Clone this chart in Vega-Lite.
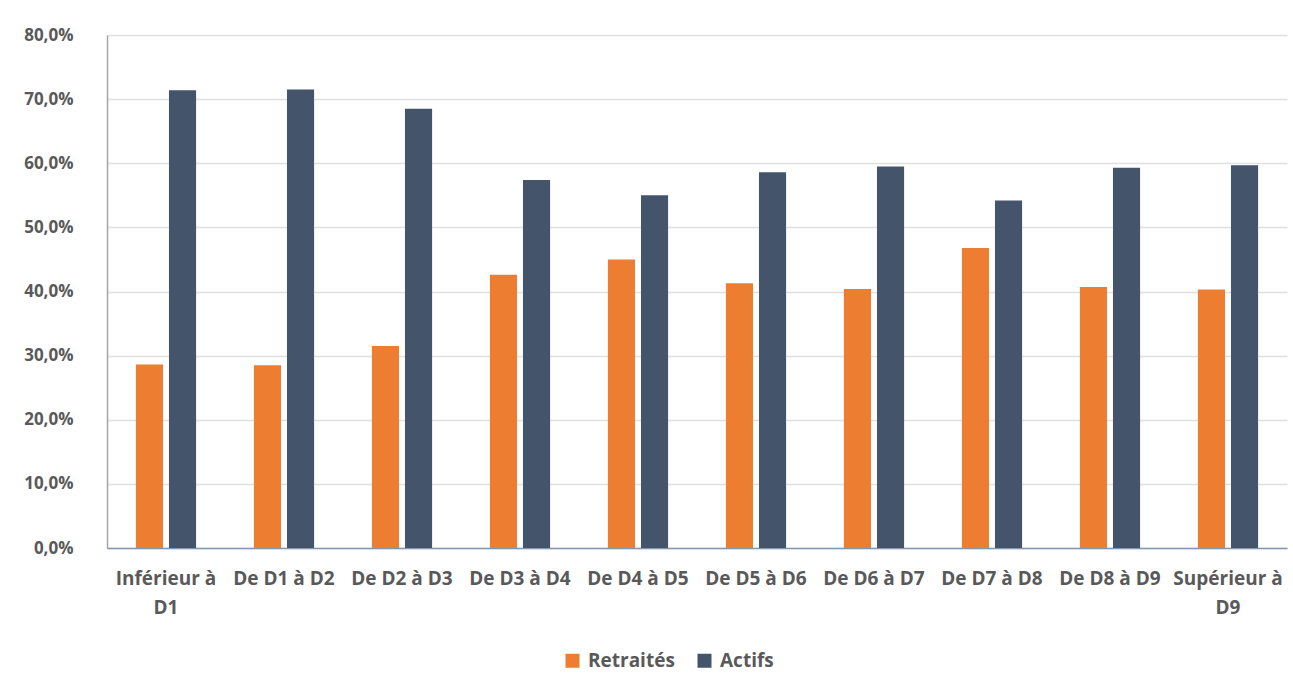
{
  "$schema": "https://vega.github.io/schema/vega-lite/v6.json",
  "width": 1180,
  "height": 513,
  "autosize": {"type": "none"},
  "padding": {"left": 107, "top": 35, "right": 6, "bottom": 143},
  "background": "white",
  "config": {
    "view": {"stroke": null},
    "font": "Open Sans",
    "axis": {"labelFont": "Open Sans", "labelFontWeight": "bold", "labelColor": "#595959", "labelFontSize": 17},
    "legend": {"labelFont": "Open Sans", "labelFontWeight": "bold", "labelColor": "#595959", "labelFontSize": 19}
  },
  "data": {
    "values": [
      {"cat": "Inférieur à D1", "serie": "Retraités", "v": 28.6},
      {"cat": "Inférieur à D1", "serie": "Actifs", "v": 71.4},
      {"cat": "De D1 à D2", "serie": "Retraités", "v": 28.5},
      {"cat": "De D1 à D2", "serie": "Actifs", "v": 71.5},
      {"cat": "De D2 à D3", "serie": "Retraités", "v": 31.5},
      {"cat": "De D2 à D3", "serie": "Actifs", "v": 68.5},
      {"cat": "De D3 à D4", "serie": "Retraités", "v": 42.6},
      {"cat": "De D3 à D4", "serie": "Actifs", "v": 57.4},
      {"cat": "De D4 à D5", "serie": "Retraités", "v": 45.0},
      {"cat": "De D4 à D5", "serie": "Actifs", "v": 55.0},
      {"cat": "De D5 à D6", "serie": "Retraités", "v": 41.3},
      {"cat": "De D5 à D6", "serie": "Actifs", "v": 58.6},
      {"cat": "De D6 à D7", "serie": "Retraités", "v": 40.4},
      {"cat": "De D6 à D7", "serie": "Actifs", "v": 59.5},
      {"cat": "De D7 à D8", "serie": "Retraités", "v": 46.8},
      {"cat": "De D7 à D8", "serie": "Actifs", "v": 54.2},
      {"cat": "De D8 à D9", "serie": "Retraités", "v": 40.7},
      {"cat": "De D8 à D9", "serie": "Actifs", "v": 59.3},
      {"cat": "Supérieur à D9", "serie": "Retraités", "v": 40.3},
      {"cat": "Supérieur à D9", "serie": "Actifs", "v": 59.7}
    ]
  },
  "mark": {"type": "bar"},
  "encoding": {
    "x": {
      "field": "cat",
      "type": "nominal",
      "sort": null,
      "title": null,
      "scale": {"paddingInner": 0.49, "paddingOuter": 0.245},
      "axis": {
        "labelAngle": 0,
        "ticks": false,
        "domainColor": "#8497B0",
        "domainWidth": 1.5,
        "labelFontSize": 19,
        "labelPadding": 30,
        "labelLineHeight": 29,
        "labelBaseline": "middle",
        "labelExpr": "datum.value === 'Inférieur à D1' ? ['Inférieur à', 'D1'] : datum.value === 'Supérieur à D9' ? ['Supérieur à', 'D9'] : datum.value"
      }
    },
    "xOffset": {
      "field": "serie",
      "type": "nominal",
      "sort": ["Retraités", "Actifs"],
      "scale": {"paddingInner": 0.18, "paddingOuter": 0}
    },
    "y": {
      "field": "v",
      "type": "quantitative",
      "title": null,
      "scale": {"domain": [0, 80], "nice": false},
      "axis": {
        "values": [0, 10, 20, 30, 40, 50, 60, 70, 80],
        "ticks": false,
        "domainColor": "#A6A6A6",
        "domainWidth": 1.5,
        "gridColor": "#E0E0E0",
        "gridWidth": 1.5,
        "labelPadding": 34,
        "labelExpr": "replace(format(datum.value, '.1f'), '.', ',') + '%'"
      }
    },
    "color": {
      "field": "serie",
      "type": "nominal",
      "sort": ["Retraités", "Actifs"],
      "scale": {"domain": ["Retraités", "Actifs"], "range": ["#ED7D31", "#44546A"]},
      "legend": {
        "title": null,
        "orient": "none",
        "direction": "horizontal",
        "legendX": 456,
        "legendY": 616,
        "symbolType": "square",
        "symbolSize": 196,
        "symbolStrokeWidth": 0,
        "columnPadding": 20,
        "labelOffset": 6
      }
    }
  }
}
